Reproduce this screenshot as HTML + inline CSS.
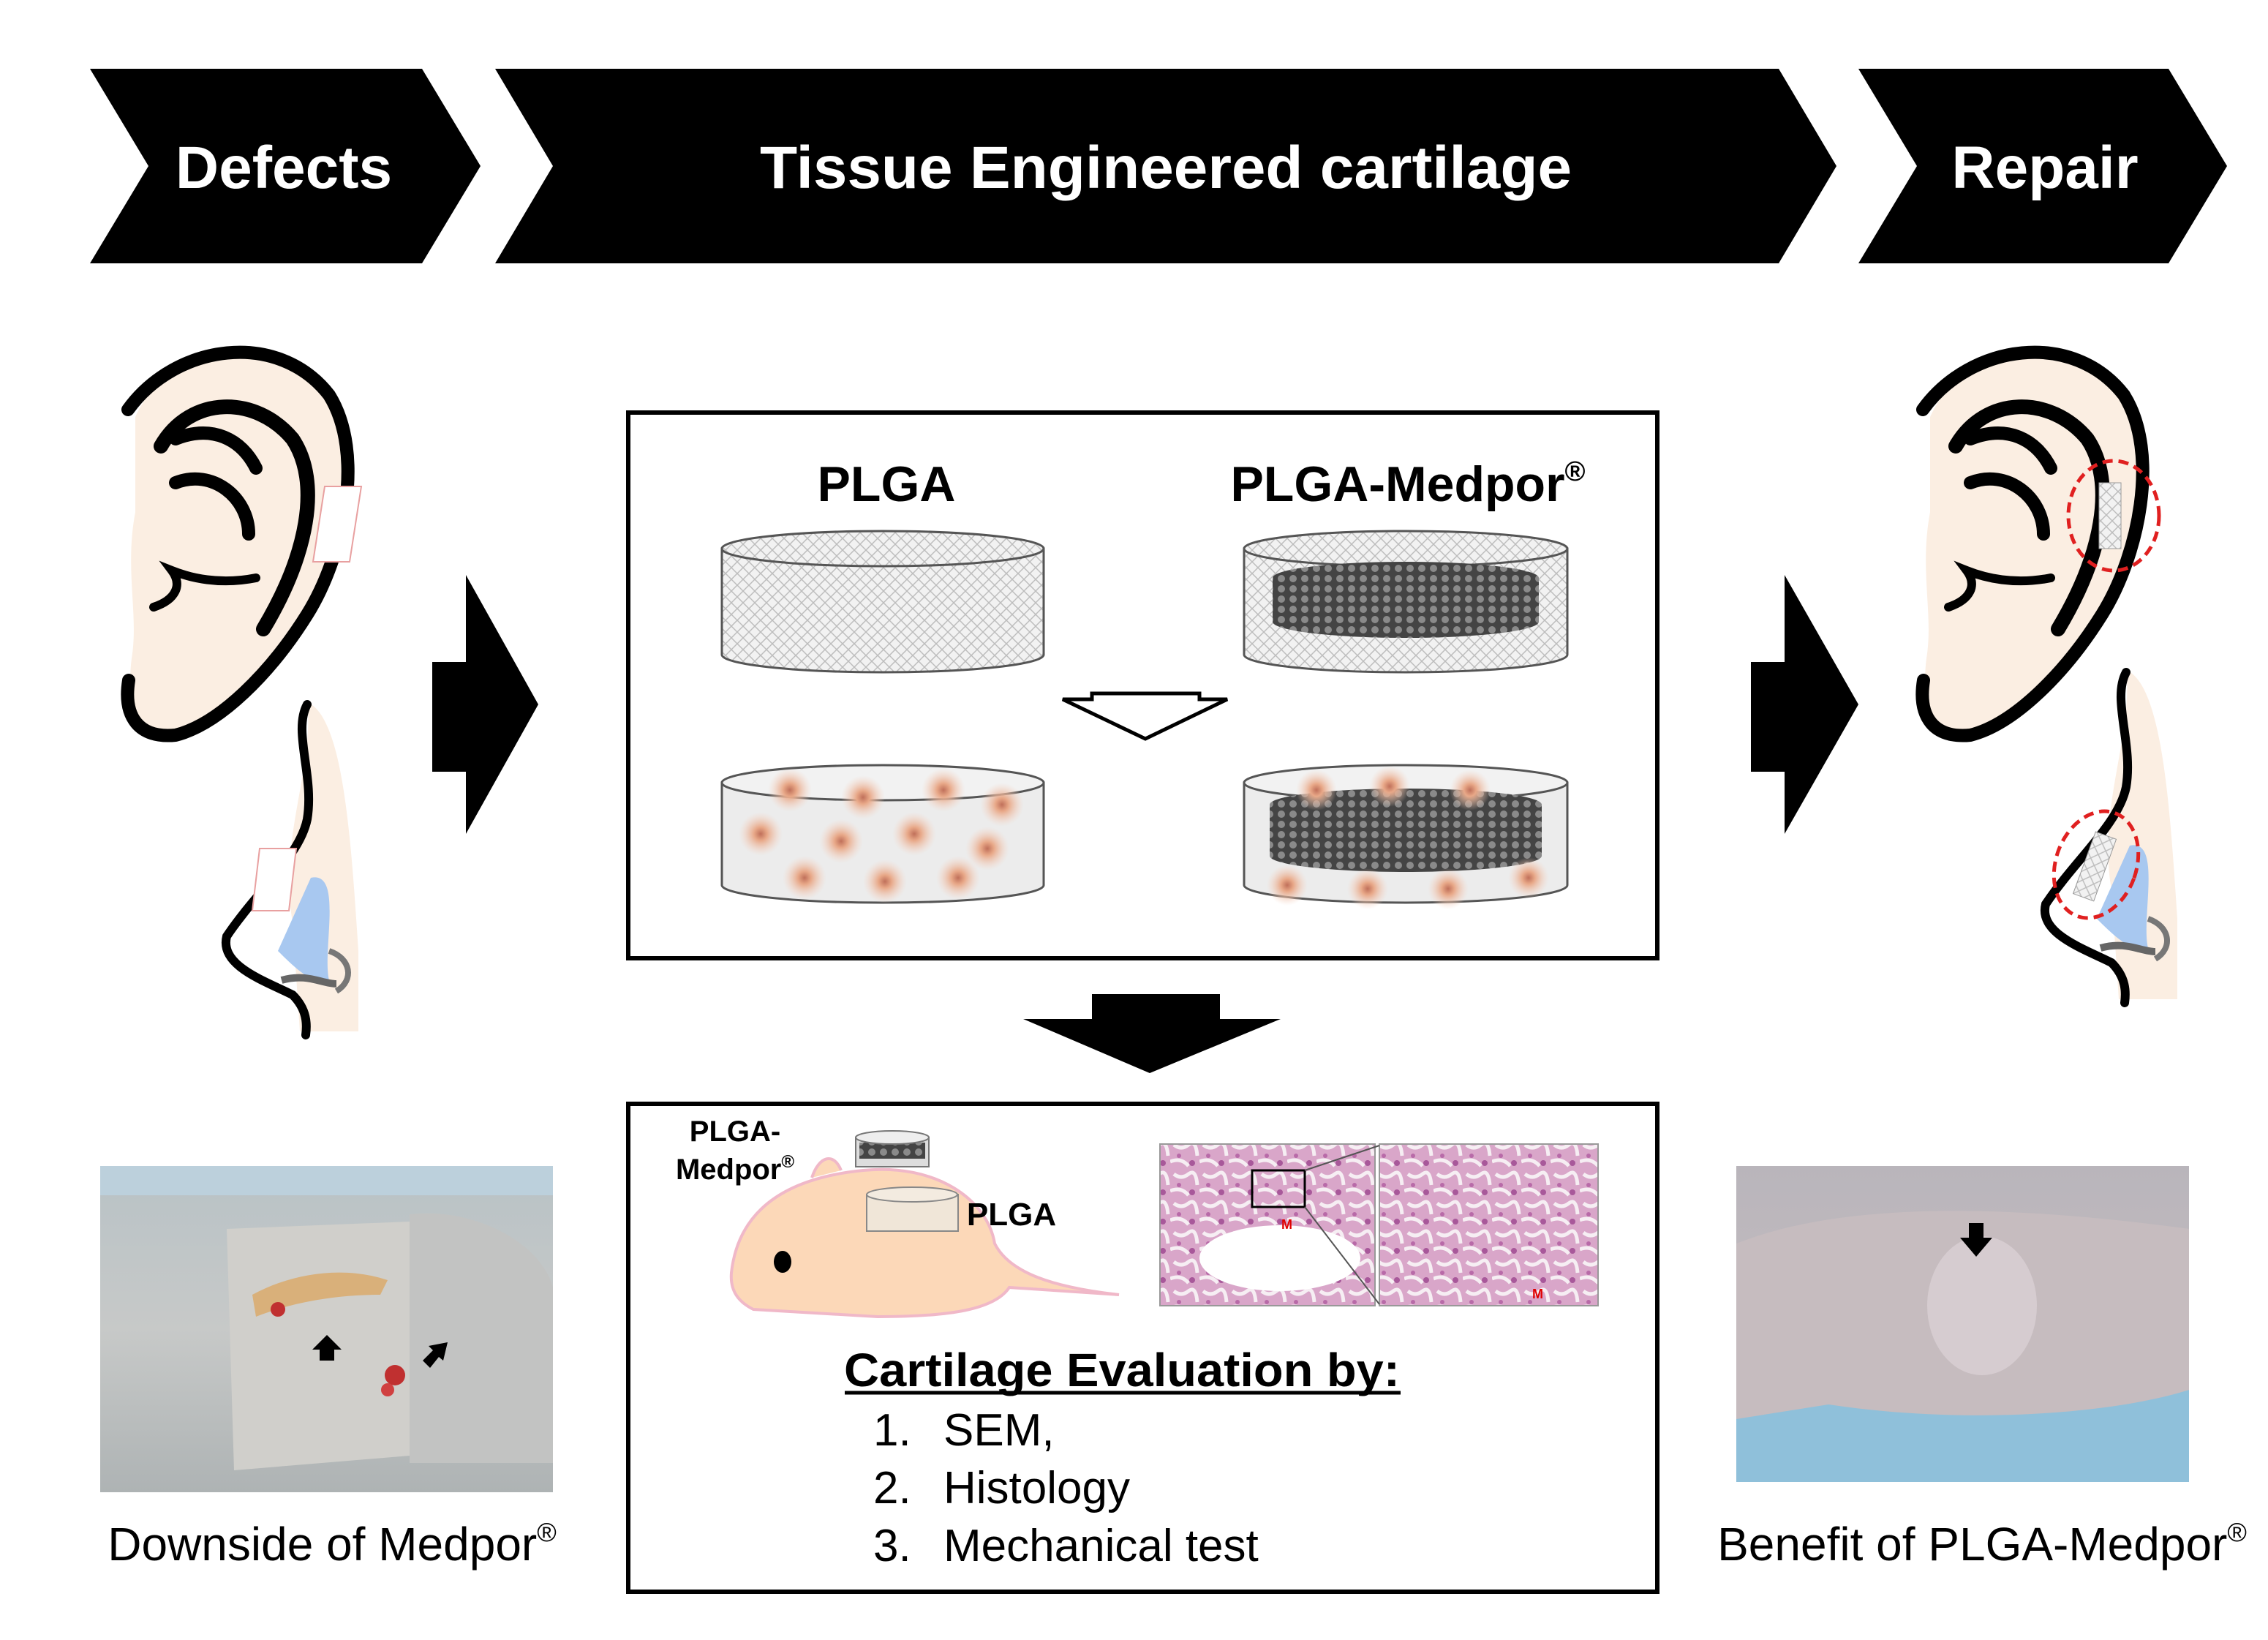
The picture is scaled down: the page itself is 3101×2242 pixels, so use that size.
<!DOCTYPE html>
<html><head><meta charset="utf-8"><style>
html,body{margin:0;padding:0;background:#fff}
svg{display:block}
text{font-family:"Liberation Sans",Arial,sans-serif}
</style></head><body>
<svg width="3101" height="2242" viewBox="0 0 3101 2242" xmlns="http://www.w3.org/2000/svg">
<defs>
<pattern id="hatch" width="16" height="16" patternUnits="userSpaceOnUse">
<rect width="16" height="16" fill="#f2f2f2"/>
<path d="M0 0L16 16M16 0L0 16" stroke="#bdbdbd" stroke-width="1.5"/>
</pattern>
<pattern id="dark" width="16" height="14" patternUnits="userSpaceOnUse">
<rect width="16" height="14" fill="#444"/>
<circle cx="8" cy="7" r="5" fill="#8a8a8a"/>
</pattern>
<radialGradient id="cell"><stop offset="0" stop-color="#c0705a"/><stop offset="0.3" stop-color="#e8a888"/><stop offset="1" stop-color="#f5d5c5" stop-opacity="0"/></radialGradient>
<linearGradient id="photoL" x1="0" y1="0" x2="0" y2="1"><stop offset="0" stop-color="#b8c2c6"/><stop offset="0.5" stop-color="#c7c9c8"/><stop offset="1" stop-color="#aeb3b4"/></linearGradient>
<linearGradient id="photoR" x1="0" y1="0" x2="0" y2="1"><stop offset="0" stop-color="#b9b5bb"/><stop offset="0.6" stop-color="#c4bcc0"/><stop offset="1" stop-color="#7fb3cf"/></linearGradient>
<pattern id="histo" width="40" height="40" patternUnits="userSpaceOnUse">
<rect width="40" height="40" fill="#d9a6c9"/>
<path d="M5 5q10 8 20 0t12 15M0 28q15-6 25 6" stroke="#f6eef3" stroke-width="5" fill="none"/>
<circle cx="30" cy="30" r="4" fill="#a8589a"/><circle cx="12" cy="20" r="3" fill="#b86aa8"/>
</pattern>
</defs>

<!-- header chevrons -->
<polygon points="123,94 577,94 657,227 577,360 123,360 203,227" fill="#000"/>
<polygon points="677,94 2432,94 2511,227 2432,360 677,360 756,227" fill="#000"/>
<polygon points="2541,94 2965,94 3045,227 2965,360 2541,360 2621,227" fill="#000"/>
<text x="388" y="257" font-size="82" font-weight="bold" fill="#fff" text-anchor="middle">Defects</text>
<text x="1594" y="257" font-size="82" font-weight="bold" fill="#fff" text-anchor="middle" textLength="1110" lengthAdjust="spacingAndGlyphs">Tissue Engineered cartilage</text>
<text x="2796" y="257" font-size="82" font-weight="bold" fill="#fff" text-anchor="middle">Repair</text>

<!-- left ear -->
<g id="ear">
<path d="M185,570 C230,470 360,450 430,520 C490,580 480,700 450,790 C420,880 330,960 260,1000 C200,1020 170,980 180,900 C190,840 170,780 185,700 Z" fill="#fbeee2"/>
<path d="M175,560 C240,470 380,450 450,540 C500,620 470,760 420,840 C370,920 300,990 240,1005 C190,1010 168,980 176,930" fill="none" stroke="#000" stroke-width="18" stroke-linecap="round"/>
<path d="M220,610 C260,540 350,540 400,600 C440,660 420,760 360,860" fill="none" stroke="#000" stroke-width="20" stroke-linecap="round"/>
<path d="M240,600 C290,580 330,600 350,640 M240,660 C290,640 340,680 340,730" fill="none" stroke="#000" stroke-width="18" stroke-linecap="round"/>
<path d="M210,830 C240,820 250,800 235,780 C260,790 300,800 350,790" fill="none" stroke="#000" stroke-width="12" stroke-linecap="round"/>
</g>
<polygon points="444,665 494,665 478,768 428,768" fill="#fff" stroke="#e8a0a0" stroke-width="2"/>
<!-- left nose -->
<g id="nose">
<path d="M420,960 C470,980 480,1150 490,1300 L490,1410 L410,1410 L400,1260 C380,1150 430,1050 420,960 Z" fill="#fbeee2"/>
<path d="M425,1200 C470,1190 440,1300 450,1340 C430,1350 400,1320 380,1300 Z" fill="#a8c8f0"/>
<path d="M420,963 C400,1000 430,1060 420,1120 C410,1170 350,1220 310,1280 C300,1320 360,1340 400,1360 C420,1380 420,1400 418,1415" fill="none" stroke="#000" stroke-width="12" stroke-linecap="round"/>
<path d="M385,1340 C420,1330 440,1345 460,1345" stroke="#666" stroke-width="10" fill="none"/>
<path d="M450,1300 C480,1310 485,1340 460,1355" stroke="#777" stroke-width="8" fill="none"/>
</g>
<polygon points="355,1160 405,1160 395,1245 345,1245" fill="#fff" stroke="#e8a0a0" stroke-width="2"/>

<!-- right ear and nose -->
<use href="#ear" transform="translate(2454,0)"/>
<use href="#nose" transform="translate(2487,-44)"/>
<ellipse cx="2890" cy="705" rx="62" ry="75" fill="none" stroke="#e02020" stroke-width="5" stroke-dasharray="14,8"/>
<rect x="2870" y="660" width="30" height="90" fill="url(#hatch)" stroke="#999"/>
<ellipse cx="2866" cy="1182" rx="55" ry="75" transform="rotate(20 2866 1182)" fill="none" stroke="#e02020" stroke-width="5" stroke-dasharray="14,8"/>
<rect x="2850" y="1140" width="30" height="90" transform="rotate(20 2866 1182)" fill="url(#hatch)" stroke="#999"/>

<!-- big arrows -->
<path d="M591,905 L637,905 L637,786 L736,963 L637,1140 L637,1055 L591,1055 Z" fill="#000"/>
<path d="M2394,905 L2440,905 L2440,786 L2541,963 L2440,1140 L2440,1055 L2394,1055 Z" fill="#000"/>
<path d="M1493,1359 L1668,1359 L1668,1393 L1751,1393 L1572,1467 L1399,1393 L1493,1393 Z" fill="#000"/>

<!-- top box -->
<rect x="859" y="564" width="1407" height="746" fill="#fff" stroke="#000" stroke-width="6"/>
<text x="1212" y="685" font-size="68" font-weight="bold" text-anchor="middle">PLGA</text>
<text x="1925" y="685" font-size="68" font-weight="bold" text-anchor="middle">PLGA-Medpor<tspan font-size="38" dy="-28">®</tspan></text>
<g>
<path d="M987,750 L987,895 A220,24 0 0 0 1427,895 L1427,750 Z" fill="url(#hatch)" stroke="#555" stroke-width="3"/>
<ellipse cx="1207" cy="750" rx="220" ry="24" fill="url(#hatch)" stroke="#555" stroke-width="3"/>
</g>
<g>
<path d="M1701,750 L1701,895 A221,24 0 0 0 2143,895 L2143,750 Z" fill="url(#hatch)" stroke="#555" stroke-width="3"/>
<ellipse cx="1922" cy="750" rx="221" ry="24" fill="url(#hatch)" stroke="#555" stroke-width="3"/>
<path d="M1740,790 L1740,850 A182,22 0 0 0 2104,850 L2104,790 Z" fill="url(#dark)"/>
<ellipse cx="1922" cy="790" rx="182" ry="22" fill="url(#dark)"/>
</g>
<path d="M1493,948 L1640,948 L1640,956 L1678,956 L1566,1010 L1453,956 L1493,956 Z" fill="#fff" stroke="#000" stroke-width="5"/>
<g>
<path d="M987,1070 L987,1210 A220,24 0 0 0 1427,1210 L1427,1070 Z" fill="#ececec" stroke="#555" stroke-width="3"/>
<ellipse cx="1207" cy="1070" rx="220" ry="24" fill="#f2f2f2" stroke="#555" stroke-width="3"/>
<g fill="url(#cell)">
<circle cx="1080" cy="1080" r="30"/><circle cx="1180" cy="1090" r="30"/><circle cx="1290" cy="1080" r="30"/><circle cx="1370" cy="1100" r="30"/>
<circle cx="1040" cy="1140" r="30"/><circle cx="1150" cy="1150" r="30"/><circle cx="1250" cy="1140" r="30"/><circle cx="1350" cy="1160" r="30"/>
<circle cx="1100" cy="1200" r="30"/><circle cx="1210" cy="1205" r="30"/><circle cx="1310" cy="1200" r="30"/>
</g>
</g>
<g>
<path d="M1701,1070 L1701,1210 A221,24 0 0 0 2143,1210 L2143,1070 Z" fill="#ececec" stroke="#555" stroke-width="3"/>
<ellipse cx="1922" cy="1070" rx="221" ry="24" fill="#f2f2f2" stroke="#555" stroke-width="3"/>
<path d="M1736,1100 L1736,1170 A186,22 0 0 0 2108,1170 L2108,1100 Z" fill="url(#dark)"/>
<ellipse cx="1922" cy="1100" rx="186" ry="22" fill="url(#dark)"/>
<g fill="url(#cell)">
<circle cx="1800" cy="1080" r="28"/><circle cx="1900" cy="1075" r="28"/><circle cx="2010" cy="1080" r="28"/>
<circle cx="1760" cy="1210" r="28"/><circle cx="1870" cy="1215" r="28"/><circle cx="1980" cy="1215" r="28"/><circle cx="2090" cy="1200" r="28"/>
</g>
</g>

<!-- bottom box -->
<rect x="859" y="1509" width="1407" height="667" fill="#fff" stroke="#000" stroke-width="6"/>
<text x="1005" y="1560" font-size="40" font-weight="bold" text-anchor="middle">PLGA-</text>
<text x="1005" y="1612" font-size="40" font-weight="bold" text-anchor="middle">Medpor<tspan font-size="24" dy="-16">®</tspan></text>
<path d="M1000,1740 C1010,1650 1080,1610 1180,1600 C1280,1590 1350,1640 1360,1700 C1380,1740 1440,1760 1530,1770 L1380,1760 C1360,1790 1300,1800 1200,1800 L1030,1790 C1010,1780 998,1765 1000,1740 Z" fill="#fcd8b8" stroke="#f0b8c8" stroke-width="4"/>
<path d="M1110,1610 C1120,1580 1140,1575 1150,1600" fill="#fcd8b8" stroke="#f0b8c8" stroke-width="4"/>
<ellipse cx="1070" cy="1725" rx="12" ry="15" fill="#000"/>
<rect x="1170" y="1555" width="100" height="40" fill="#ddd" stroke="#777" stroke-width="2"/>
<rect x="1175" y="1562" width="90" height="22" fill="url(#dark)"/>
<ellipse cx="1220" cy="1555" rx="50" ry="9" fill="#eee" stroke="#777" stroke-width="2"/>
<rect x="1185" y="1633" width="125" height="50" fill="#f0e6d8" stroke="#888" stroke-width="2"/>
<ellipse cx="1247" cy="1633" rx="62" ry="10" fill="#f3ebe0" stroke="#888" stroke-width="2"/>
<text x="1383" y="1675" font-size="44" font-weight="bold" text-anchor="middle">PLGA</text>
<rect x="1586" y="1564" width="294" height="221" fill="url(#histo)" stroke="#999" stroke-width="2"/>
<ellipse cx="1750" cy="1720" rx="110" ry="45" fill="#fff"/>
<text x="1752" y="1680" font-size="18" font-weight="bold" fill="#e00000">M</text>
<rect x="1712" y="1600" width="72" height="50" fill="none" stroke="#000" stroke-width="3"/>
<rect x="1886" y="1564" width="299" height="221" fill="url(#histo)" stroke="#999" stroke-width="2"/>
<text x="2095" y="1775" font-size="18" font-weight="bold" fill="#e00000">M</text>
<line x1="1784" y1="1600" x2="1886" y2="1566" stroke="#555" stroke-width="2"/>
<line x1="1784" y1="1650" x2="1886" y2="1783" stroke="#555" stroke-width="2"/>

<text x="1534" y="1895" font-size="64" font-weight="bold" text-anchor="middle" textLength="760" lengthAdjust="spacingAndGlyphs">Cartilage Evaluation by:</text>
<line x1="1155" y1="1904" x2="1915" y2="1904" stroke="#000" stroke-width="5"/>
<text x="1194" y="1976" font-size="62">1.</text><text x="1290" y="1976" font-size="62">SEM,</text>
<text x="1194" y="2055" font-size="62">2.</text><text x="1290" y="2055" font-size="62">Histology</text>
<text x="1194" y="2134" font-size="62">3.</text><text x="1290" y="2134" font-size="62">Mechanical test</text>

<!-- photos -->
<rect x="137" y="1594" width="619" height="446" fill="url(#photoL)"/>
<rect x="137" y="1594" width="619" height="40" fill="#bcd0dc"/>
<path d="M310,1680 L560,1670 C600,1700 620,1760 580,1900 L560,1990 L320,2010 Z" fill="#d0cfcb"/>
<path d="M560,1660 C650,1650 740,1700 756,1760 L756,2000 L560,2000 Z" fill="#c2c3c2"/>
<path d="M345,1770 C400,1740 470,1730 530,1750 L520,1770 C460,1770 400,1780 350,1800 Z" fill="#d9b07a"/>
<circle cx="380" cy="1790" r="10" fill="#c03030"/><circle cx="540" cy="1880" r="14" fill="#c03030"/><circle cx="530" cy="1900" r="9" fill="#d04040"/>
<path d="M437,1860 L437,1845 L427,1845 L447,1825 L467,1845 L457,1845 L457,1860 Z" fill="#000"/>
<path d="M578,1860 L592,1846 L586,1840 L612,1835 L606,1860 L600,1855 L588,1870 Z" fill="#000"/>

<rect x="2374" y="1594" width="619" height="432" fill="url(#photoR)"/>
<path d="M2374,1940 C2500,1890 2650,1920 2750,1930 C2850,1930 2920,1900 2993,1880 L2993,2026 L2374,2026 Z" fill="#8fc0da"/>
<path d="M2374,1700 C2500,1650 2700,1640 2993,1680 L2993,1900 C2900,1930 2700,1950 2500,1920 L2374,1940 Z" fill="#c6bcbf"/>
<ellipse cx="2710" cy="1785" rx="75" ry="95" fill="#d6ccd0"/>
<path d="M2692,1672 L2692,1692 L2680,1692 L2702,1718 L2724,1692 L2712,1692 L2712,1672 Z" fill="#000"/>

<text x="454" y="2133" font-size="64" text-anchor="middle">Downside of Medpor<tspan font-size="36" dy="-26">®</tspan></text>
<text x="2710" y="2133" font-size="64" text-anchor="middle">Benefit of PLGA-Medpor<tspan font-size="36" dy="-26">®</tspan></text>
</svg>
</body></html>
